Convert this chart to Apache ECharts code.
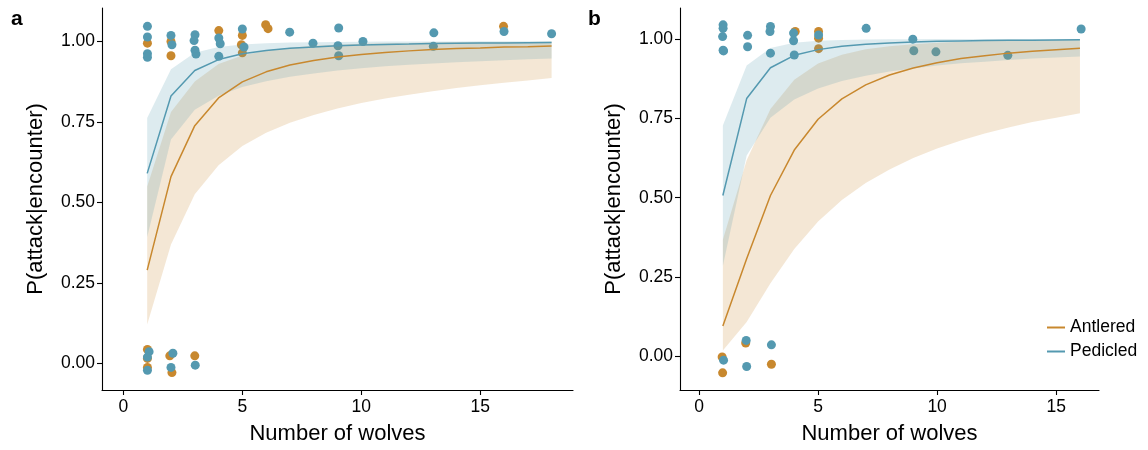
<!DOCTYPE html>
<html>
<head>
<meta charset="utf-8">
<script src="https://cdn.jsdelivr.net/npm/echarts@6/dist/echarts.min.js"></script>
<style>html,body{margin:0;padding:0;background:#fff}#c{width:1148px;height:450px}</style>
</head>
<body>
<div id="c"></div>
<script>
// ---------- data ----------
var xA = [1,2,3,4,5,6,7,8,9,10,11,12,13,14,15,16,17,18];
var antA_fit = [0.290,0.580,0.738,0.824,0.874,0.905,0.926,0.940,0.951,0.959,0.965,0.970,0.974,0.977,0.979,0.982,0.983,0.985];
var antA_lo  = [0.121,0.369,0.525,0.615,0.675,0.716,0.747,0.771,0.791,0.808,0.822,0.834,0.845,0.855,0.863,0.871,0.878,0.886];
var antA_hi  = [0.549,0.780,0.875,0.929,0.956,0.971,0.980,0.986,0.989,0.992,0.9935,0.9948,0.9957,0.9964,0.997,0.9975,0.9978,0.998];
var pedA_fit = [0.590,0.830,0.909,0.943,0.961,0.971,0.978,0.982,0.986,0.988,0.990,0.991,0.9925,0.9934,0.9942,0.9948,0.9953,0.9958];
var pedA_lo  = [0.393,0.695,0.787,0.831,0.858,0.876,0.890,0.900,0.909,0.916,0.922,0.927,0.931,0.935,0.938,0.941,0.944,0.946];
var pedA_hi  = [0.762,0.913,0.964,0.982,0.990,0.9939,0.9959,0.9971,0.9979,0.9984,0.9988,0.999,0.9992,0.9994,0.9995,0.9996,0.9996,0.9997];

var xB = [1,2,3,4,5,6,7,8,9,10,11,12,13,14,15,16];
var antB_fit = [0.096,0.308,0.507,0.650,0.747,0.811,0.855,0.886,0.908,0.925,0.938,0.947,0.955,0.961,0.966,0.970];
var antB_lo  = [0.019,0.109,0.231,0.339,0.425,0.493,0.546,0.589,0.625,0.655,0.680,0.702,0.721,0.738,0.752,0.766];
var antB_hi  = [0.368,0.618,0.779,0.871,0.922,0.950,0.967,0.977,0.983,0.9877,0.9907,0.9928,0.9943,0.9954,0.9963,0.9969];
var pedB_fit = [0.507,0.812,0.909,0.948,0.966,0.977,0.983,0.987,0.990,0.992,0.9933,0.9944,0.9952,0.9959,0.9965,0.9969];
var pedB_lo  = [0.285,0.633,0.752,0.809,0.844,0.867,0.884,0.897,0.907,0.916,0.923,0.928,0.933,0.938,0.941,0.944];
var pedB_hi  = [0.727,0.916,0.971,0.9873,0.9936,0.9963,0.9977,0.9985,0.999,0.9993,0.9995,0.9996,0.9997,0.9997,0.9998,0.9998];

var antA_pts = [[1.01,0.994],[2.0,0.999],[2.0,0.955],[4.01,1.033],[5.0,1.018],[4.96,0.989],[5.0,0.964],[5.98,1.051],[6.08,1.039],[15.98,1.046],
                [1.01,0.044],[1.01,0.016],[1.01,-0.012],[1.95,0.024],[2.04,-0.028],[3.0,0.024]];
var pedA_pts = [[1.01,1.046],[1.01,1.013],[1.01,0.961],[1.01,0.950],[2.0,1.018],[2.04,0.989],[3.01,1.020],[2.97,1.002],[3.01,0.972],[3.05,0.960],
                [4.01,1.010],[4.07,0.992],[4.01,0.953],[5.0,1.038],[5.07,0.982],[6.99,1.028],[7.97,0.994],[9.05,1.041],[9.02,0.986],[9.05,0.955],
                [10.07,0.999],[13.05,1.026],[13.03,0.984],[16.0,1.030],[18.0,1.023],
                [1.08,0.037],[1.01,0.020],[1.01,-0.021],[2.08,0.032],[2.0,-0.012],[3.02,-0.005]];
var antB_pts = [[4.04,1.023],[5.02,1.023],[5.02,1.002],[5.02,0.969],[0.97,-0.001],[0.99,-0.051],[1.96,0.043],[3.04,-0.024]];
var pedB_pts = [[1.01,1.044],[1.01,1.033],[0.99,1.007],[1.01,0.964],[1.03,0.962],[2.04,1.011],[2.04,0.975],[3.0,1.039],[2.98,1.023],[3.0,0.955],
                [3.97,1.018],[3.97,0.994],[4.0,0.949],[5.02,1.012],[7.02,1.033],[8.98,0.999],[9.02,0.9625],[9.95,0.959],[12.97,0.948],[16.05,1.031],
                [1.03,-0.011],[1.98,0.051],[2.0,-0.031],[3.04,0.037]];

var yTicks = [0, 0.25, 0.5, 0.75, 1];
var xTicks = [0, 5, 10, 15];
var seriesNames = ['Antlered', 'Pedicled'];
// ---------------------------------------------------

var ORANGE = '#C8882E', BLUE = '#5499B0';
var FONT = '"Liberation Sans", Arial, Helvetica, sans-serif';

function rows(x, lo, hi) { return x.map(function (v, i) { return [v, lo[i], hi[i]]; }); }
function pairs(x, y) { return x.map(function (v, i) { return [v, y[i]]; }); }

function ribbon(idx, x, lo, hi, fill) {
  return {
    type: 'custom', xAxisIndex: idx, yAxisIndex: idx, z: 3, silent: true,
    data: rows(x, lo, hi), encode: { x: 0, y: [1, 2] },
    renderItem: function (params, api) {
      if (params.dataIndex !== 0) return null;
      var pts = [];
      for (var i = 0; i < x.length; i++) pts.push(api.coord([x[i], hi[i]]));
      for (var j = x.length - 1; j >= 0; j--) pts.push(api.coord([x[j], lo[j]]));
      return { type: 'polygon', shape: { points: pts }, style: { fill: fill, stroke: null } };
    }
  };
}
function fitLine(idx, name, x, y, color) {
  return { type: 'line', name: name, xAxisIndex: idx, yAxisIndex: idx, z: 4, data: pairs(x, y),
           showSymbol: false, symbol: 'none', lineStyle: { color: color, width: 1.5 }, itemStyle: { color: color } };
}
function scat(idx, pts, color) {
  return { type: 'scatter', xAxisIndex: idx, yAxisIndex: idx, z: 2, data: pts, symbolSize: 9,
           itemStyle: { color: color, opacity: 1 } };
}
function xAxis(idx, max) {
  return {
    type: 'value', gridIndex: idx, min: -0.9 * (max / 18), max: max + 0.9 * (max / 18),
    name: 'Number of wolves', nameLocation: 'middle', nameGap: 33,
    nameTextStyle: { fontSize: 22, color: '#000', fontFamily: FONT },
    axisLine: { show: true, onZero: false, lineStyle: { color: '#000', width: 1.1 } },
    axisTick: { show: true, length: 5, customValues: xTicks, lineStyle: { color: '#000', width: 1.1 } },
    axisLabel: { customValues: xTicks, fontSize: 17.5, color: '#000', fontFamily: FONT, margin: 8 },
    splitLine: { show: false }
  };
}
function yAxis(idx, min, max) {
  return {
    type: 'value', gridIndex: idx, min: min, max: max,
    name: 'P(attack|encounter)', nameLocation: 'middle', nameGap: 55,
    nameTextStyle: { fontSize: 22, color: '#000', fontFamily: FONT },
    axisLine: { show: true, onZero: false, lineStyle: { color: '#000', width: 1.1 } },
    axisTick: { show: true, length: 5, customValues: yTicks, lineStyle: { color: '#000', width: 1.1 } },
    axisLabel: { customValues: yTicks, fontSize: 17.5, color: '#000', fontFamily: FONT, margin: 7,
                 formatter: function (v) { return v.toFixed(2); } },
    splitLine: { show: false }
  };
}

var chart = echarts.init(document.getElementById('c'), null, { renderer: 'canvas' });
chart.setOption({
  animation: false,
  backgroundColor: '#fff',
  textStyle: { fontFamily: FONT },
  title: [
    { text: 'a', left: 6, top: 4, textStyle: { fontSize: 21, fontWeight: 'bold', color: '#000', fontFamily: FONT } },
    { text: 'b', left: 583, top: 4, textStyle: { fontSize: 21, fontWeight: 'bold', color: '#000', fontFamily: FONT } }
  ],
  grid: [
    { left: 102, top: 8, width: 471, height: 385 },
    { left: 680, top: 8, width: 419, height: 385 }
  ],
  legend: {
    orient: 'vertical', left: 1042, top: 313, itemWidth: 18, itemHeight: 2, itemGap: 5,
    textStyle: { fontSize: 17.5, color: '#000', fontFamily: FONT, lineHeight: 19, padding: [0, 0, 0, 0] },
    data: [
      { name: seriesNames[0], icon: 'rect', itemStyle: { color: ORANGE } },
      { name: seriesNames[1], icon: 'rect', itemStyle: { color: BLUE } }
    ],
    selectedMode: false
  },
  xAxis: [xAxis(0, 18), xAxis(1, 16)],
  yAxis: [yAxis(0, -0.082, 1.103), yAxis(1, -0.105, 1.097)],
  series: [
    scat(0, antA_pts, ORANGE), scat(0, pedA_pts, BLUE),
    ribbon(0, xA, antA_lo, antA_hi, 'rgba(200,136,46,0.2)'),
    ribbon(0, xA, pedA_lo, pedA_hi, 'rgba(84,153,176,0.2)'),
    fitLine(0, seriesNames[0], xA, antA_fit, ORANGE),
    fitLine(0, seriesNames[1], xA, pedA_fit, BLUE),
    scat(1, antB_pts, ORANGE), scat(1, pedB_pts, BLUE),
    ribbon(1, xB, antB_lo, antB_hi, 'rgba(200,136,46,0.2)'),
    ribbon(1, xB, pedB_lo, pedB_hi, 'rgba(84,153,176,0.2)'),
    fitLine(1, seriesNames[0], xB, antB_fit, ORANGE),
    fitLine(1, seriesNames[1], xB, pedB_fit, BLUE)
  ]
});
</script>
</body>
</html>
